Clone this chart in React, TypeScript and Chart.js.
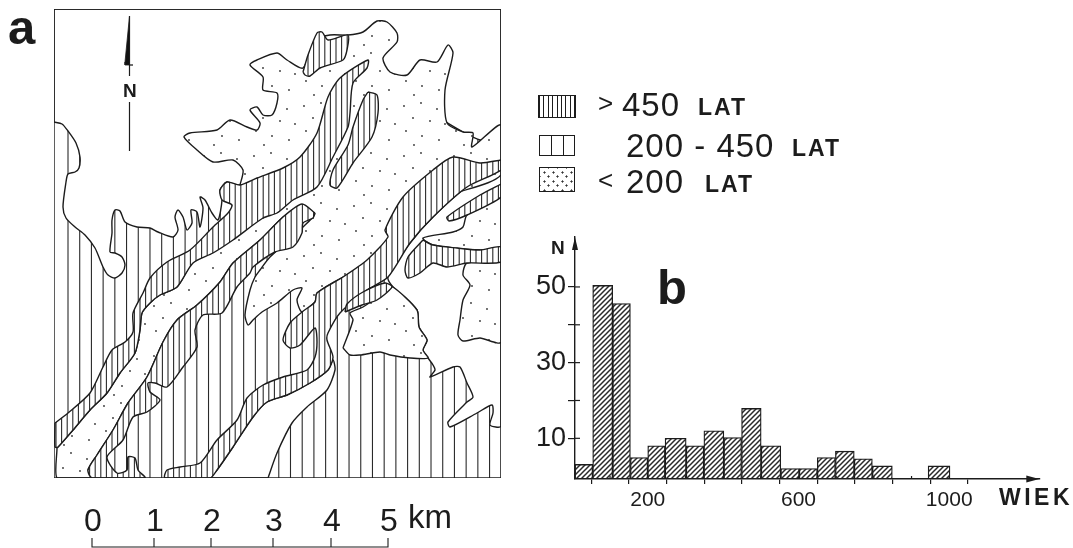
import React, { useEffect, useRef } from "react";
import { Chart, registerables } from "chart.js";

Chart.register(...registerables);

type Pt = [number, number];

// ---------- Panel b: age histogram ----------
const binStart = [7, 54, 107, 154, 200, 246, 302, 349, 402, 449, 501, 553, 602, 650, 698, 748, 796, 944];
const binEnd = [54, 107, 154, 200, 246, 302, 349, 402, 449, 501, 553, 602, 650, 698, 748, 796, 849, 1002];
const binCount = [3.1, 50.4, 45.6, 4.9, 8, 10, 8, 12, 10.2, 17.9, 8, 2, 2, 4.9, 6.6, 4.6, 2.7, 2.7];
const xTickValues = [100, 200, 300, 400, 500, 600, 700, 800, 900, 1000];
const xTickLabels = [200, 600, 1000];
const yTickValues = [10, 20, 30, 40, 50];
const yTickLabels = [10, 30, 50];
const histXRange: Pt = [7, 1239];
const histYRange: Pt = [-0.75, 63.2];

// ---------- Panel a: map outlines, in map units ----------
const mapXRange: Pt = [54, 501];
const mapYRange: Pt = [478, 9];
const frame: Pt[] = [[54, 9], [501, 9], [501, 478], [54, 478]];
const whiteNorth: Pt[] = [[54, 122], [62, 124], [68, 131], [76, 143], [80, 157], [79, 168], [75, 172], [68, 174], [66, 182], [63, 207], [66, 218], [75, 227], [85, 235], [95, 248], [103, 267], [108, 275], [115, 278], [122, 273], [125, 265], [122, 257], [115, 253], [110, 252], [112, 233], [112, 220], [115, 210], [120, 211], [125, 222], [137, 227], [150, 228], [158, 232], [173, 237], [178, 230], [175, 217], [178, 210], [183, 217], [187, 230], [192, 223], [191, 210], [197, 212], [200, 227], [203, 208], [200, 197], [205, 200], [212, 213], [218, 220], [222, 200], [220, 190], [227, 182], [240, 185], [300, 120], [400, 100], [480, 140], [501, 130], [501, 9], [54, 9]];
const whiteEast: Pt[] = [[501, 170], [467, 187], [433, 217], [410, 243], [388, 277], [393, 287], [417, 310], [419, 327], [427, 340], [423, 350], [428, 358], [433, 365], [435, 370], [430, 377], [453, 367], [460, 367], [467, 383], [473, 397], [467, 402], [448, 422], [450, 427], [477, 413], [492, 405], [493, 413], [490, 425], [501, 426]];
const whiteRiver: Pt[] = [[268, 478], [277, 453], [292, 423], [307, 407], [327, 390], [335, 370], [333, 360], [328, 370], [310, 383], [287, 395], [267, 402], [253, 417], [233, 447], [217, 470], [210, 478]];
const dotsCentral: Pt[] = [[240, 185], [243, 170], [233, 160], [213, 162], [197, 150], [184, 137], [190, 133], [217, 130], [230, 120], [247, 127], [257, 130], [260, 123], [250, 110], [257, 107], [263, 115], [272, 115], [277, 103], [277, 93], [263, 90], [263, 77], [250, 65], [257, 60], [277, 53], [287, 60], [303, 68], [315, 40], [330, 35], [348, 35], [363, 32], [377, 21], [387, 22], [397, 33], [397, 42], [383, 58], [390, 72], [407, 75], [420, 60], [437, 62], [448, 45], [453, 53], [445, 90], [447, 123], [463, 132], [473, 133], [472, 147], [501, 125], [501, 175], [440, 200], [380, 260], [343, 277], [317, 293], [315, 302], [302, 312], [297, 300], [302, 288], [293, 290], [277, 303], [262, 312], [253, 320], [248, 325], [245, 315], [250, 290], [255, 277], [260, 270], [270, 257], [303, 227], [315, 213], [310, 190], [280, 190]];
const dotsStrip: Pt[] = [[57, 448], [57, 478], [92, 478], [88, 470], [97, 455], [113, 430], [128, 403], [147, 377], [163, 342], [177, 320], [197, 305], [220, 282], [233, 263], [260, 240], [283, 217], [302, 204], [310, 190], [293, 195], [263, 215], [233, 237], [193, 262], [177, 287], [160, 295], [150, 303], [142, 313], [140, 330], [135, 353], [120, 373], [107, 393], [90, 410], [73, 430], [58, 447]];
const dotsJoin: Pt[] = [[305, 190], [325, 195], [322, 212], [305, 212], [295, 203]];
const dotsRightTop: Pt[] = [[501, 197], [467, 215], [463, 227], [453, 232], [423, 238], [433, 245], [480, 250], [501, 247]];
const dotsRightLow: Pt[] = [[501, 262], [467, 263], [463, 275], [470, 285], [463, 300], [460, 320], [458, 335], [463, 341], [480, 338], [501, 342]];
const dotsIsland: Pt[] = [[343, 348], [353, 320], [350, 313], [363, 307], [388, 290], [393, 287], [417, 310], [419, 327], [427, 340], [423, 350], [428, 358], [410, 358], [390, 355], [380, 352], [360, 355], [350, 355]];
const denseNorthBand: Pt[] = [[55, 423], [68, 413], [90, 393], [103, 367], [112, 350], [125, 342], [133, 332], [133, 313], [143, 293], [150, 278], [167, 262], [190, 250], [213, 227], [228, 213], [232, 205], [222, 200], [220, 190], [227, 182], [240, 185], [257, 178], [283, 168], [300, 157], [317, 133], [328, 97], [340, 78], [368, 60], [367, 68], [353, 83], [350, 113], [348, 127], [333, 157], [317, 187], [293, 200], [277, 213], [263, 218], [233, 240], [213, 253], [193, 263], [177, 287], [160, 295], [150, 303], [142, 313], [140, 330], [135, 353], [120, 373], [107, 393], [90, 410], [73, 430], [58, 447], [55, 447]];
const denseMiddleBand: Pt[] = [[315, 213], [313, 218], [303, 223], [302, 233], [293, 247], [275, 252], [253, 267], [250, 273], [237, 287], [222, 313], [203, 315], [195, 330], [197, 347], [183, 367], [167, 387], [155, 383], [148, 383], [150, 392], [160, 400], [147, 412], [133, 417], [123, 440], [107, 457], [117, 473], [127, 470], [128, 457], [135, 458], [138, 470], [145, 478], [92, 478], [88, 470], [97, 455], [113, 430], [128, 403], [147, 377], [163, 342], [177, 320], [197, 305], [220, 282], [233, 263], [260, 240], [283, 217], [302, 204]];
const denseEastBand: Pt[] = [[501, 160], [480, 163], [453, 157], [433, 170], [403, 197], [385, 230], [388, 237], [367, 260], [343, 277], [317, 293], [315, 302], [302, 312], [290, 323], [283, 340], [290, 348], [300, 345], [315, 328], [317, 342], [315, 357], [307, 370], [283, 377], [263, 385], [247, 398], [237, 420], [217, 440], [200, 463], [180, 467], [167, 470], [165, 478], [210, 478], [217, 470], [233, 447], [253, 417], [267, 402], [287, 395], [310, 383], [328, 370], [333, 357], [327, 340], [328, 333], [340, 313], [367, 290], [388, 277], [410, 243], [433, 217], [467, 187], [501, 170]];
const denseTongue: Pt[] = [[501, 184], [480, 195], [447, 217], [449, 221], [467, 215], [501, 197]];
const denseRight: Pt[] = [[423, 240], [433, 245], [457, 248], [480, 250], [501, 247], [501, 262], [467, 263], [447, 267], [433, 263], [420, 273], [408, 278], [405, 270], [408, 257]];
const denseSliver: Pt[] = [[345, 312], [362, 305], [377, 300], [392, 287], [385, 283], [363, 292], [347, 304]];
const denseBlob: Pt[] = [[303, 72], [308, 55], [317, 33], [322, 32], [328, 40], [348, 35], [347, 50], [343, 60], [320, 68], [310, 76], [305, 75]];
const denseLens: Pt[] = [[368, 92], [377, 95], [378, 113], [372, 137], [353, 163], [337, 188], [330, 185], [333, 170], [348, 145], [353, 127], [363, 100]];
const northLineUpper: Pt[] = [[129.5, 16], [129.5, 76]];
const northLineLower: Pt[] = [[129.5, 102], [129.5, 151]];
const northBarb: Pt[] = [[129.5, 16], [125, 62], [125, 65], [133, 65], [129.5, 65]];
const scaleKmPositions = [92, 154, 211, 273, 331, 388];
const scaleKmLabels = ["0", "1", "2", "3", "4", "5"];
const scaleBaseline = 547;
const scaleTickTop = 538;

// Decorative stipple for the youngest-age class, offsets in a repeating tile
const stippleTile: Pt[] = [[4, 6], [21, 3], [37, 9], [13, 18], [30, 21], [45, 24], [6, 31], [22, 36], [39, 40], [14, 45]];

// ---------- Legend ----------
const legendRows = [
  { sign: ">", range: "450", unit: "LAT" },
  { sign: "", range: "200 - 450", unit: "LAT" },
  { sign: "<", range: "200", unit: "LAT" },
];

const W = 1073;
const H = 548;
const INK = "#1c1c1c";

const stripePattern = (ctx: CanvasRenderingContext2D, period: number, phase: number, lw: number) => {
  const tile = document.createElement("canvas");
  tile.width = W;
  tile.height = 1;
  const t = tile.getContext("2d")!;
  t.fillStyle = "#fff";
  t.fillRect(0, 0, W, 1);
  t.fillStyle = "#2a2a2a";
  for (let x = phase; x < W; x += period) t.fillRect(x - lw / 2, 0, lw, 1);
  return ctx.createPattern(tile, "repeat")!;
};

const stipplePattern = (ctx: CanvasRenderingContext2D) => {
  const tile = document.createElement("canvas");
  tile.width = 50;
  tile.height = 50;
  const t = tile.getContext("2d")!;
  t.fillStyle = "#fff";
  t.fillRect(0, 0, 50, 50);
  t.fillStyle = "#333";
  stippleTile.forEach(([x, y]) => {
    t.beginPath();
    t.arc(x, y, 0.9, 0, Math.PI * 2);
    t.fill();
  });
  return ctx.createPattern(tile, "repeat")!;
};

const diagonalPattern = (ctx: CanvasRenderingContext2D) => {
  const s = 5;
  const tile = document.createElement("canvas");
  tile.width = s;
  tile.height = s;
  const t = tile.getContext("2d")!;
  t.fillStyle = "#fff";
  t.fillRect(0, 0, s, s);
  t.strokeStyle = "#2a2a2a";
  t.lineWidth = 1.5;
  t.beginPath();
  t.moveTo(-1, s + 1);
  t.lineTo(s + 1, -1);
  t.moveTo(-1, 1);
  t.lineTo(1, -1);
  t.moveTo(s - 1, s + 1);
  t.lineTo(s + 1, s - 1);
  t.stroke();
  return ctx.createPattern(tile, "repeat")!;
};

const toXY = (pts: Pt[]) => pts.map(([x, y]) => ({ x, y }));

// Arrowheads on both axes, and the part of each tick that crosses to the inside of the axis
const histArrows = {
  id: "histArrows",
  afterDraw(chart: any) {
    const { ctx, chartArea: a, scales } = chart;
    const y0 = scales.y.getPixelForValue(histYRange[0]);
    ctx.save();
    ctx.fillStyle = INK;
    ctx.strokeStyle = INK;
    ctx.lineWidth = 1.2;
    xTickValues.forEach((v) => {
      const x = scales.x.getPixelForValue(v);
      ctx.beginPath();
      ctx.moveTo(x, y0);
      ctx.lineTo(x, y0 - 3);
      ctx.stroke();
    });
    yTickValues.forEach((v) => {
      const y = scales.y.getPixelForValue(v);
      ctx.beginPath();
      ctx.moveTo(a.left, y);
      ctx.lineTo(a.left + 5, y);
      ctx.stroke();
    });
    ctx.beginPath();
    ctx.moveTo(a.right, y0);
    ctx.lineTo(a.right - 13, y0 - 3.5);
    ctx.lineTo(a.right - 13, y0 + 3.5);
    ctx.fill();
    ctx.beginPath();
    ctx.moveTo(a.left, a.top);
    ctx.lineTo(a.left - 3, a.top + 13);
    ctx.lineTo(a.left + 3, a.top + 13);
    ctx.fill();
    ctx.restore();
  },
};

const Label = ({ x, y, size, bold, spacing, center, children }: any) => (
  <span
    style={{
      position: "absolute",
      left: x,
      top: y,
      fontFamily: "'Liberation Sans', Arial, sans-serif",
      fontSize: size,
      fontWeight: bold ? 700 : 400,
      letterSpacing: spacing || 0,
      lineHeight: 1,
      whiteSpace: "pre",
      color: INK,
      transform: center ? "translateX(-50%)" : undefined,
    }}
  >
    {children}
  </span>
);

const swatchBase: React.CSSProperties = {
  position: "absolute",
  boxSizing: "border-box",
  border: `1.5px solid ${INK}`,
  background: "#fff",
};

export default function App() {
  const mapRef = useRef<HTMLCanvasElement>(null);
  const histRef = useRef<HTMLCanvasElement>(null);

  useEffect(() => {
    const mctx = mapRef.current!.getContext("2d")!;
    const light = stripePattern(mctx, 11.71, 68, 1.1);
    const dense = stripePattern(mctx, 5.6, 56, 1.1);
    const dots = stipplePattern(mctx);
    const white = "#ffffff";

    const poly = (pts: Pt[], fill: any, borderWidth = 1.4, tension = 0.25) => ({
      data: toXY([...pts, pts[0]]),
      showLine: true,
      fill: "shape",
      backgroundColor: fill,
      borderColor: INK,
      borderWidth,
      tension,
      pointRadius: 0,
    });
    const stroke = (pts: Pt[], borderWidth = 1.2, clip: any = undefined) => ({
      data: toXY(pts),
      showLine: true,
      fill: false,
      borderColor: INK,
      borderWidth,
      tension: 0,
      pointRadius: 0,
      clip,
    });

    const scaleBar: Pt[] = [];
    scaleKmPositions.forEach((x) => {
      scaleBar.push([x, scaleBaseline], [x, scaleTickTop], [x, scaleBaseline]);
    });

    // Listed bottom layer first; Chart.js paints the last dataset first, so the list is reversed below.
    const layers: any[] = [
      poly(frame, light, 0, 0),
      poly(whiteNorth, white),
      poly(whiteEast, white),
      poly(whiteRiver, white),
      poly(dotsCentral, dots),
      poly(dotsStrip, dots),
      poly(dotsRightTop, dots),
      poly(dotsRightLow, dots),
      poly(dotsIsland, dots),
      poly(dotsJoin, dots, 0),
      poly(denseNorthBand, dense),
      poly(denseMiddleBand, dense),
      poly(denseEastBand, dense),
      poly(denseTongue, dense),
      poly(denseRight, dense),
      poly(denseSliver, dense),
      poly(denseBlob, dense),
      poly(denseLens, dense),
      poly(frame, "rgba(0,0,0,0)", 1.4, 0),
      stroke(northLineUpper),
      stroke(northLineLower),
      poly(northBarb, "#111", 0.8, 0),
      stroke(scaleBar, 1.1, false),
    ];

    const map = new Chart(mapRef.current!, {
      type: "scatter",
      data: { datasets: layers.reverse() },
      options: {
        animation: false,
        responsive: false,
        events: [],
        layout: { padding: { left: mapXRange[0], right: W - mapXRange[1], top: mapYRange[1], bottom: H - mapYRange[0] } },
        plugins: { legend: { display: false }, tooltip: { enabled: false } },
        scales: {
          x: { type: "linear", display: false, min: mapXRange[0], max: mapXRange[1] },
          y: { type: "linear", display: false, min: mapYRange[1], max: mapYRange[0], reverse: true },
        },
      },
    } as any);

    const hctx = histRef.current!.getContext("2d")!;
    const hatch = diagonalPattern(hctx);
    const plotLeft = 575;
    const plotRight = 1039.3;
    const plotTop = 237;
    const plotBottom = 479;
    const pxPerUnit = (plotRight - plotLeft) / (histXRange[1] - histXRange[0]);
    const yAxisWidth = 50;
    const xAxisHeight = 40;

    const hist = new Chart(histRef.current!, {
      type: "bar",
      data: {
        datasets: binCount.map((count, i) => ({
          label: `${binStart[i]}-${binEnd[i]}`,
          data: [{ x: (binStart[i] + binEnd[i]) / 2, y: count }],
          barThickness: (binEnd[i] - binStart[i]) * pxPerUnit,
          grouped: false,
          base: histYRange[0],
          backgroundColor: hatch,
          borderColor: INK,
          borderWidth: 1.3,
          borderSkipped: false,
        })),
      },
      options: {
        animation: false,
        responsive: false,
        events: [],
        layout: {
          padding: {
            left: plotLeft - yAxisWidth,
            right: W - plotRight,
            top: plotTop,
            bottom: H - plotBottom - xAxisHeight,
          },
        },
        plugins: { legend: { display: false }, tooltip: { enabled: false } },
        scales: {
          x: {
            type: "linear",
            min: histXRange[0],
            max: histXRange[1],
            offset: false,
            afterBuildTicks: (s: any) => {
              s.ticks = xTickValues.map((value) => ({ value }));
            },
            afterFit: (s: any) => {
              s.height = xAxisHeight;
            },
            grid: { display: true, drawOnChartArea: false, drawTicks: true, tickLength: 5, color: INK, lineWidth: 1.2 },
            border: { display: true, color: INK, width: 1.4 },
            ticks: {
              autoSkip: false,
              maxRotation: 0,
              padding: 4,
              color: INK,
              font: { family: "'Liberation Sans', Arial, sans-serif", size: 21 },
              callback: (v: any) => (xTickLabels.includes(v) ? String(v) : ""),
            },
          },
          y: {
            type: "linear",
            min: histYRange[0],
            max: histYRange[1],
            afterBuildTicks: (s: any) => {
              s.ticks = yTickValues.map((value) => ({ value }));
            },
            afterFit: (s: any) => {
              s.width = yAxisWidth;
            },
            grid: { display: true, drawOnChartArea: false, drawTicks: true, tickLength: 7, color: INK, lineWidth: 1.2 },
            border: { display: true, color: INK, width: 1.4 },
            ticks: {
              autoSkip: false,
              padding: 2,
              color: INK,
              font: { family: "'Liberation Sans', Arial, sans-serif", size: 27 },
              callback: (v: any) => (yTickLabels.includes(v) ? String(v) : ""),
            },
          },
        },
      },
      plugins: [histArrows],
    } as any);

    return () => {
      map.destroy();
      hist.destroy();
    };
  }, []);

  const canvasStyle: React.CSSProperties = { position: "absolute", left: 0, top: 0 };
  const legendTops = [88, 129, 165];
  const legendSign = [598, 0, 598];
  const legendRange = [622, 626, 626];
  const legendUnit = [698, 792, 705];

  return (
    <div style={{ position: "absolute", left: 0, top: 0, width: W, height: H, overflow: "hidden", background: "#fff", filter: "blur(0.4px)" }}>
      <canvas ref={mapRef} width={W} height={H} style={canvasStyle} />
      <canvas ref={histRef} width={W} height={H} style={canvasStyle} />

      <Label x={8} y={3} size={49} bold>a</Label>
      <Label x={657} y={263} size={49} bold>b</Label>
      <Label x={123} y={81} size={19} bold>N</Label>
      <Label x={551} y={238} size={19} bold>N</Label>
      <Label x={999} y={485.5} size={23} bold spacing={3.5}>WIEK</Label>

      {scaleKmLabels.map((t, i) => (
        <Label key={t} x={scaleKmPositions[i] + 1} y={504} size={32} center>{t}</Label>
      ))}
      <Label x={408} y={500} size={33}>km</Label>

      <div style={{ ...swatchBase, left: 538, top: 95, width: 38, height: 23, backgroundImage: `repeating-linear-gradient(90deg, ${INK} 0 1px, #fff 1px 4.4px)` }} />
      <div style={{ ...swatchBase, left: 539, top: 135, width: 36, height: 21, backgroundImage: `repeating-linear-gradient(90deg, #fff 0 11px, ${INK} 11px 12px)` }} />
      <div style={{ ...swatchBase, left: 539, top: 167, width: 36, height: 25, backgroundImage: `radial-gradient(circle, #333 0.9px, transparent 1.2px), radial-gradient(circle, #333 0.9px, transparent 1.2px)`, backgroundSize: "9px 9px", backgroundPosition: "0 0, 4px 4px" }} />

      {legendRows.map((r, i) => (
        <React.Fragment key={i}>
          {r.sign ? <Label x={legendSign[i]} y={legendTops[i] + 2} size={26}>{r.sign}</Label> : null}
          <Label x={legendRange[i]} y={legendTops[i]} size={33} spacing={1}>{r.range}</Label>
          <Label x={legendUnit[i]} y={legendTops[i] + 8} size={23} bold spacing={2}>{r.unit}</Label>
        </React.Fragment>
      ))}
    </div>
  );
}
